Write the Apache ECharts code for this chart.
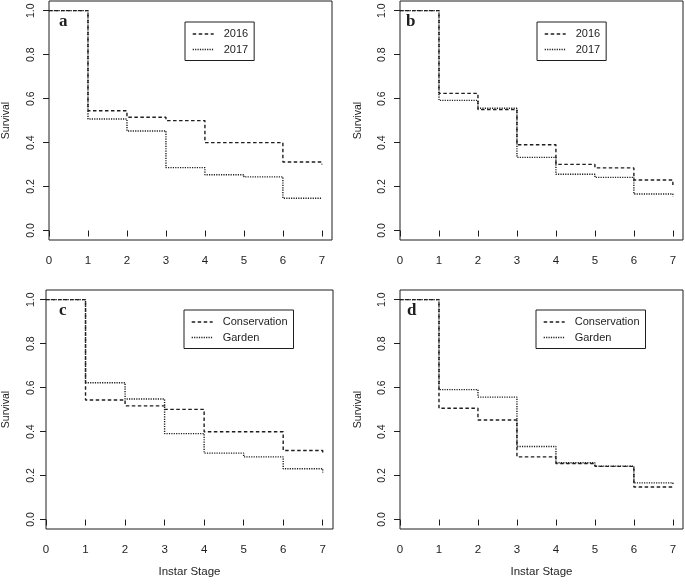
<!DOCTYPE html>
<html>
<head>
<meta charset="utf-8">
<script src="https://cdn.jsdelivr.net/npm/echarts@6.0.0/dist/echarts.min.js"></script>
<style>
html,body{margin:0;padding:0;background:#fff;}
#chart{width:685px;height:585px;}
</style>
</head>
<body>
<div id="chart"></div>
<script>
// ---- data ----
const stages = [0, 1, 2, 3, 4, 5, 6, 7];
const yTicks = [0, 0.2, 0.4, 0.6, 0.8, 1.0];

// panel a: by year
const a2016 = [1.0, 0.545, 0.515, 0.500, 0.400, 0.400, 0.312, 0.300];
const a2017 = [1.0, 0.507, 0.453, 0.286, 0.254, 0.244, 0.147, 0.147];
// panel b: by year
const b2016 = [1.0, 0.624, 0.550, 0.390, 0.301, 0.285, 0.230, 0.207];
const b2017 = [1.0, 0.592, 0.556, 0.333, 0.256, 0.242, 0.166, 0.155];
// panel c: by habitat
const cConservation = [1.0, 0.544, 0.517, 0.501, 0.399, 0.399, 0.314, 0.295];
const cGarden       = [1.0, 0.622, 0.548, 0.391, 0.302, 0.285, 0.231, 0.214];
// panel d: by habitat
const dConservation = [1.0, 0.506, 0.453, 0.285, 0.255, 0.242, 0.148, 0.148];
const dGarden       = [1.0, 0.591, 0.557, 0.332, 0.258, 0.243, 0.167, 0.157];

const yearNames = ['2016', '2017'];
const habitatNames = ['Conservation', 'Garden'];
const panelLetters = ['a', 'b', 'c', 'd'];
const xTitle = 'Instar Stage';
const yTitle = 'Survival';

// ---- styling / layout ----
const INK = '#1e1e1e';
const FONT = '"Liberation Sans", Arial, sans-serif';
const DASH = [3.5, 2.5];
const DOT = [1.2, 1.2];

const panels = [
  {grid: {left: 49, top: 1, width: 283, height: 239}, s: [a2016, a2017], names: yearNames,
   legend: {left: 185, top: 22}, ylm: 12, ynameGap: 37, xname: false},
  {grid: {left: 400, top: 1, width: 283, height: 239}, s: [b2016, b2017], names: yearNames,
   legend: {left: 537, top: 22}, ylm: 12, ynameGap: 36, xname: false},
  {grid: {left: 46, top: 290, width: 287, height: 239}, s: [cConservation, cGarden], names: habitatNames,
   legend: {left: 184, top: 310}, ylm: 9, ynameGap: 34, xname: true},
  {grid: {left: 400, top: 290, width: 283, height: 239}, s: [dConservation, dGarden], names: habitatNames,
   legend: {left: 536, top: 310}, ylm: 12, ynameGap: 36, xname: true}
];

const option = {
  animation: false,
  backgroundColor: '#fff',
  grid: [], xAxis: [], yAxis: [], series: [], legend: [], title: []
};

panels.forEach((p, i) => {
  option.grid.push(Object.assign({
    show: true, borderColor: INK, borderWidth: 1, backgroundColor: 'transparent',
    outerBoundsMode: 'none', containLabel: false
  }, p.grid));
  option.xAxis.push({
    type: 'value', gridIndex: i, min: 0, max: 7.26,
    splitLine: {show: false}, axisLine: {show: false},
    axisTick: {show: true, length: 6, customValues: stages, lineStyle: {color: INK, width: 1}},
    axisLabel: {customValues: stages, margin: 15, fontSize: 11.5, fontFamily: FONT, color: INK},
    name: p.xname ? xTitle : '', nameLocation: 'middle', nameGap: 37,
    nameTextStyle: {fontSize: 11.5, fontFamily: FONT, color: INK}
  });
  option.yAxis.push({
    type: 'value', gridIndex: i, min: -0.043, max: 1.044,
    splitLine: {show: false}, axisLine: {show: false},
    axisTick: {show: true, length: 6, customValues: yTicks, lineStyle: {color: INK, width: 1}},
    axisLabel: {customValues: yTicks, rotate: 90, margin: p.ylm, fontSize: 10.5, fontFamily: FONT, color: INK,
      formatter: v => v.toFixed(1)},
    name: yTitle, nameLocation: 'middle', nameGap: p.ynameGap,
    nameTextStyle: {fontSize: 10.5, fontFamily: FONT, color: INK}
  });
  p.s.forEach((vals, k) => {
    option.series.push({
      type: 'line', name: p.names[k], xAxisIndex: i, yAxisIndex: i,
      step: 'end', symbol: 'none', showSymbol: false, silent: true,
      data: stages.map((s, j) => [s, vals[j]]),
      lineStyle: {color: INK, width: 1.4, type: k === 0 ? DASH : DOT},
      itemStyle: {color: INK}
    });
  });
  option.legend.push({
    orient: 'vertical', left: p.legend.left, top: p.legend.top,
    padding: [6, 6, 5, 7], itemWidth: 21, itemHeight: 12, itemGap: 3.5,
    borderColor: INK, borderWidth: 1, borderRadius: 0, selectedMode: false,
    data: p.names,
    itemStyle: {opacity: 0},
    lineStyle: {width: 1.4},
    textStyle: {fontSize: 11, fontFamily: FONT, color: INK, lineHeight: 12, padding: [0, 0, 0, 5]}
  });
  const lp = [[59, 13], [406, 13], [59, 302], [407, 302]][i];
  option.title.push({
    text: panelLetters[i], left: lp[0], top: lp[1], padding: 0,
    textStyle: {fontFamily: '"Liberation Serif", "Times New Roman", serif', fontWeight: 'bold', fontSize: 17, color: INK}
  });
});

const chart = echarts.init(document.getElementById('chart'), null, {renderer: 'canvas'});
chart.setOption(option);
</script>
</body>
</html>
